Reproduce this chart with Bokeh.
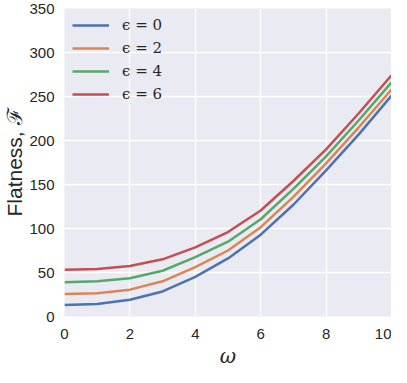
from bokeh.plotting import figure
from bokeh.models import Range1d, FixedTicker, Legend, LegendItem, Title
from bokeh.embed import file_html
from bokeh.resources import INLINE

omega = [0, 1, 2, 3, 4, 5, 6, 7, 8, 9, 10]
flat_eps0 = [13, 14.3, 19, 28.5, 45, 66, 93, 127, 166, 207, 251]
flat_eps2 = [25.5, 26.5, 30.5, 40, 56, 75, 101.5, 136, 174, 215, 258]
flat_eps4 = [39, 40, 43.5, 52, 67.5, 85, 110.5, 145, 182, 223, 266]
flat_eps6 = [53, 54, 57.5, 65, 78.5, 96, 120.5, 154, 190, 231, 274]
labels = ["ϵ = 0", "ϵ = 2", "ϵ = 4", "ϵ = 6"]
colors = ["#4C72B0", "#DD8452", "#55A868", "#C44E52"]
x_ticks = [0, 2, 4, 6, 8, 10]
y_ticks = [0, 50, 100, 150, 200, 250, 300, 350]
x_title = "ω"
y_title = "Flatness, ℱ"

p = figure(width=391, height=367, output_backend="svg", toolbar_location=None,
           x_range=Range1d(0, 10), y_range=Range1d(0, 350),
           min_border_left=58, min_border_right=0, min_border_top=8, min_border_bottom=0)
p.background_fill_color = "#EAEAF2"
p.border_fill_color = "white"
p.outline_line_color = None

for ax in (p.xaxis, p.yaxis):
    ax.axis_line_color = None
    ax.major_tick_line_color = None
    ax.minor_tick_line_color = None
    ax.major_tick_out = 0
    ax.major_tick_in = 0
    ax.major_label_text_font = "Liberation Sans"
    ax.major_label_text_font_size = "15px"
    ax.major_label_text_color = "#262626"
    ax.axis_label_text_color = "#262626"

p.xaxis.ticker = FixedTicker(ticks=x_ticks)
p.yaxis.ticker = FixedTicker(ticks=y_ticks)
p.xaxis.major_label_standoff = 12
p.yaxis.major_label_standoff = 10

p.yaxis.axis_label = y_title
p.yaxis.axis_label_text_font = "Liberation Sans"
p.yaxis.axis_label_text_font_style = "normal"
p.yaxis.axis_label_text_font_size = "21px"
p.yaxis.axis_label_standoff = 0

p.xgrid.grid_line_color = "white"
p.ygrid.grid_line_color = "white"
p.xgrid.grid_line_width = 1.3
p.ygrid.grid_line_width = 1.3

items = []
for ys, lab, col in zip([flat_eps0, flat_eps2, flat_eps4, flat_eps6], labels, colors):
    r = p.line(omega, ys, line_color=col, line_width=2.5)
    items.append(LegendItem(label=lab, renderers=[r]))

legend = Legend(items=items, location="top_left")
legend.background_fill_alpha = 0
legend.border_line_alpha = 0
legend.margin = 0
legend.padding = 8
legend.glyph_width = 37
legend.glyph_height = 18
legend.label_height = 18
legend.spacing = 5
legend.label_standoff = 13
legend.label_text_font = "DejaVu Serif"
legend.label_text_font_size = "15px"
legend.label_text_color = "#262626"
p.add_layout(legend)

xt = Title(text=x_title, align="center", text_font="DejaVu Serif",
           text_font_style="italic", text_font_size="20px", text_color="#262626",
           standoff=0, offset=0)
p.add_layout(xt, "below")

open("out.html", "w").write(file_html(p, INLINE))
